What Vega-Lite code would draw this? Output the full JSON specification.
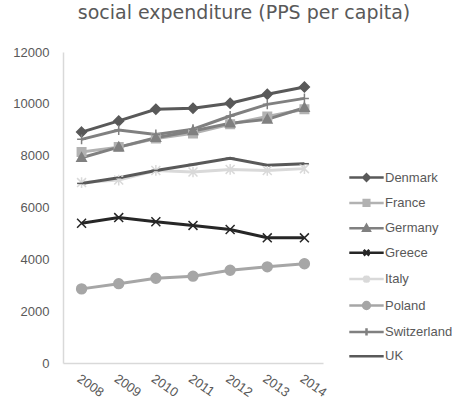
{
  "$schema": "https://vega.github.io/schema/vega-lite/v6.json",
  "width": 260,
  "height": 311,
  "autosize": {"type": "none"},
  "padding": {"left": 63, "top": 52, "right": 135, "bottom": 42},
  "background": "white",
  "title": {
    "text": "social expenditure (PPS per capita)",
    "font": "DejaVu Sans",
    "fontSize": 19,
    "fontWeight": "normal",
    "color": "#595959",
    "anchor": "middle",
    "frame": "group",
    "dx": 51,
    "offset": 23
  },
  "config": {
    "view": {"stroke": null},
    "axis": {
      "domainColor": "#d9d9d9",
      "domainWidth": 1.5,
      "ticks": false,
      "grid": false,
      "labelFont": "Liberation Sans",
      "labelFontSize": 13,
      "labelColor": "#595959",
      "title": null
    },
    "legend": {
      "orient": "none",
      "legendX": 297,
      "legendY": 119,
      "padding": 0,
      "symbolSize": 64,
      "symbolStrokeWidth": 2.5,
      "symbolOpacity": 1,
      "labelFont": "Liberation Sans",
      "labelFontSize": 13,
      "labelColor": "#595959",
      "labelOffset": 12,
      "rowPadding": 8.4
    }
  },
  "data": {
    "values": [
      {"country": "Denmark", "year": "2008", "value": 8910},
      {"country": "Denmark", "year": "2009", "value": 9340},
      {"country": "Denmark", "year": "2010", "value": 9790},
      {"country": "Denmark", "year": "2011", "value": 9830},
      {"country": "Denmark", "year": "2012", "value": 10020},
      {"country": "Denmark", "year": "2013", "value": 10370},
      {"country": "Denmark", "year": "2014", "value": 10650},
      {"country": "France", "year": "2008", "value": 8140},
      {"country": "France", "year": "2009", "value": 8330},
      {"country": "France", "year": "2010", "value": 8660},
      {"country": "France", "year": "2011", "value": 8860},
      {"country": "France", "year": "2012", "value": 9210},
      {"country": "France", "year": "2013", "value": 9510},
      {"country": "France", "year": "2014", "value": 9790},
      {"country": "Germany", "year": "2008", "value": 7920},
      {"country": "Germany", "year": "2009", "value": 8330},
      {"country": "Germany", "year": "2010", "value": 8690},
      {"country": "Germany", "year": "2011", "value": 8950},
      {"country": "Germany", "year": "2012", "value": 9250},
      {"country": "Germany", "year": "2013", "value": 9400},
      {"country": "Germany", "year": "2014", "value": 9850},
      {"country": "Greece", "year": "2008", "value": 5390},
      {"country": "Greece", "year": "2009", "value": 5610},
      {"country": "Greece", "year": "2010", "value": 5450},
      {"country": "Greece", "year": "2011", "value": 5310},
      {"country": "Greece", "year": "2012", "value": 5150},
      {"country": "Greece", "year": "2013", "value": 4830},
      {"country": "Greece", "year": "2014", "value": 4830},
      {"country": "Italy", "year": "2008", "value": 6960},
      {"country": "Italy", "year": "2009", "value": 7060},
      {"country": "Italy", "year": "2010", "value": 7430},
      {"country": "Italy", "year": "2011", "value": 7370},
      {"country": "Italy", "year": "2012", "value": 7470},
      {"country": "Italy", "year": "2013", "value": 7430},
      {"country": "Italy", "year": "2014", "value": 7500},
      {"country": "Poland", "year": "2008", "value": 2860},
      {"country": "Poland", "year": "2009", "value": 3060},
      {"country": "Poland", "year": "2010", "value": 3270},
      {"country": "Poland", "year": "2011", "value": 3350},
      {"country": "Poland", "year": "2012", "value": 3580},
      {"country": "Poland", "year": "2013", "value": 3710},
      {"country": "Poland", "year": "2014", "value": 3830},
      {"country": "Switzerland", "year": "2008", "value": 8630},
      {"country": "Switzerland", "year": "2009", "value": 8990},
      {"country": "Switzerland", "year": "2010", "value": 8820},
      {"country": "Switzerland", "year": "2011", "value": 9020},
      {"country": "Switzerland", "year": "2012", "value": 9530},
      {"country": "Switzerland", "year": "2013", "value": 9980},
      {"country": "Switzerland", "year": "2014", "value": 10210},
      {"country": "UK", "year": "2008", "value": 6930},
      {"country": "UK", "year": "2009", "value": 7150},
      {"country": "UK", "year": "2010", "value": 7430},
      {"country": "UK", "year": "2011", "value": 7660},
      {"country": "UK", "year": "2012", "value": 7900},
      {"country": "UK", "year": "2013", "value": 7630},
      {"country": "UK", "year": "2014", "value": 7690}
    ]
  },
  "encoding": {
    "x": {
      "field": "year",
      "type": "ordinal",
      "scale": {"type": "point", "padding": 0.5},
      "axis": {"labelAngle": 35, "labelAlign": "left", "labelBaseline": "top", "labelPadding": 9}
    },
    "y": {
      "field": "value",
      "type": "quantitative",
      "scale": {"domain": [0, 12000], "nice": false},
      "axis": {"values": [0, 2000, 4000, 6000, 8000, 10000, 12000], "format": "d", "labelPadding": 14}
    }
  },
  "layer": [
    {
      "mark": {"type": "line", "strokeWidth": 3},
      "encoding": {
        "color": {
          "field": "country",
          "type": "nominal",
          "scale": {
            "domain": ["Denmark", "France", "Germany", "Greece", "Italy", "Poland", "Switzerland", "UK"],
            "range": ["#595959", "#b2b2b2", "#808080", "#262626", "#d9d9d9", "#a6a6a6", "#808080", "#595959"]
          },
          "legend": {"title": null}
        }
      }
    },
    {
      "mark": {"type": "point", "filled": true, "opacity": 0, "size": 64},
      "encoding": {
        "color": {"field": "country", "type": "nominal", "legend": {"title": null}},
        "stroke": {
          "field": "country",
          "type": "nominal",
          "scale": {
            "domain": ["Denmark", "France", "Germany", "Greece", "Italy", "Poland", "Switzerland", "UK"],
            "range": ["#595959", "#b2b2b2", "#808080", "#262626", "#d9d9d9", "#a6a6a6", "#808080", "#595959"]
          },
          "legend": {"title": null}
        },
        "shape": {
          "field": "country",
          "type": "nominal",
          "scale": {
            "domain": ["Denmark", "France", "Germany", "Greece", "Italy", "Poland", "Switzerland", "UK"],
            "range": [
              "M-4.3,0H4.3M0,-0.8L0.8,0L0,0.8L-0.8,0Z",
              "M-4.3,0H4.3M-0.7,-0.7H0.7V0.7H-0.7Z",
              "M-4.3,0H4.3M0,-0.8L0.8,0.6H-0.8Z",
              "M-4.3,0H4.3M-0.7,-0.7L0.7,0.7M-0.7,0.7L0.7,-0.7",
              "M-4.3,0H4.3M-0.7,-0.7L0.7,0.7M-0.7,0.7L0.7,-0.7M0,-0.9V0.9",
              "M-4.3,0H4.3M0.85,0A0.85,0.85 0 1,1 -0.85,0A0.85,0.85 0 1,1 0.85,0Z",
              "M-4.3,0H4.3M0,-0.9V0.9",
              "M-4.3,0H4.3"
            ]
          },
          "legend": {"title": null}
        }
      }
    },
    {
      "transform": [{"filter": "datum.country == 'Denmark'"}],
      "mark": {"type": "point", "shape": "M0,-1.1L1.1,0L0,1.1L-1.1,0Z", "filled": true, "fill": "#595959", "stroke": "#595959", "strokeWidth": 1.5, "size": 80, "opacity": 1}
    },
    {
      "transform": [{"filter": "datum.country == 'France'"}],
      "mark": {"type": "point", "shape": "M-0.95,-0.95H0.95V0.95H-0.95Z", "filled": true, "fill": "#b2b2b2", "stroke": "#b2b2b2", "strokeWidth": 1.5, "size": 80, "opacity": 1}
    },
    {
      "transform": [{"filter": "datum.country == 'Germany'"}],
      "mark": {"type": "point", "shape": "M0,-1.1L1.05,0.8H-1.05Z", "filled": true, "fill": "#808080", "stroke": "#808080", "strokeWidth": 1.5, "size": 80, "opacity": 1}
    },
    {
      "transform": [{"filter": "datum.country == 'Greece'"}],
      "mark": {"type": "point", "shape": "M-1,-1L1,1M-1,1L1,-1", "filled": true, "fill": "#262626", "stroke": "#262626", "strokeWidth": 1.5, "size": 80, "opacity": 1}
    },
    {
      "transform": [{"filter": "datum.country == 'Italy'"}],
      "mark": {"type": "point", "shape": "M-1,-1L1,1M-1,1L1,-1M0,-1.2V1.2", "filled": true, "fill": "#d9d9d9", "stroke": "#d9d9d9", "strokeWidth": 1.5, "size": 80, "opacity": 1}
    },
    {
      "transform": [{"filter": "datum.country == 'Poland'"}],
      "mark": {"type": "point", "shape": "M1.1,0A1.1,1.1 0 1,1 -1.1,0A1.1,1.1 0 1,1 1.1,0Z", "filled": true, "fill": "#a6a6a6", "stroke": "#a6a6a6", "strokeWidth": 1.5, "size": 80, "opacity": 1}
    },
    {
      "transform": [{"filter": "datum.country == 'Switzerland'"}],
      "mark": {"type": "point", "shape": "M0,-1.1V1.1M-1,0H1", "filled": true, "fill": "#808080", "stroke": "#808080", "strokeWidth": 1.5, "size": 80, "opacity": 1}
    },
    {
      "transform": [{"filter": "datum.country == 'UK'"}],
      "mark": {"type": "point", "shape": "M-1,0H1", "filled": true, "fill": "#595959", "stroke": "#595959", "strokeWidth": 1.5, "size": 80, "opacity": 1}
    }
  ]
}
